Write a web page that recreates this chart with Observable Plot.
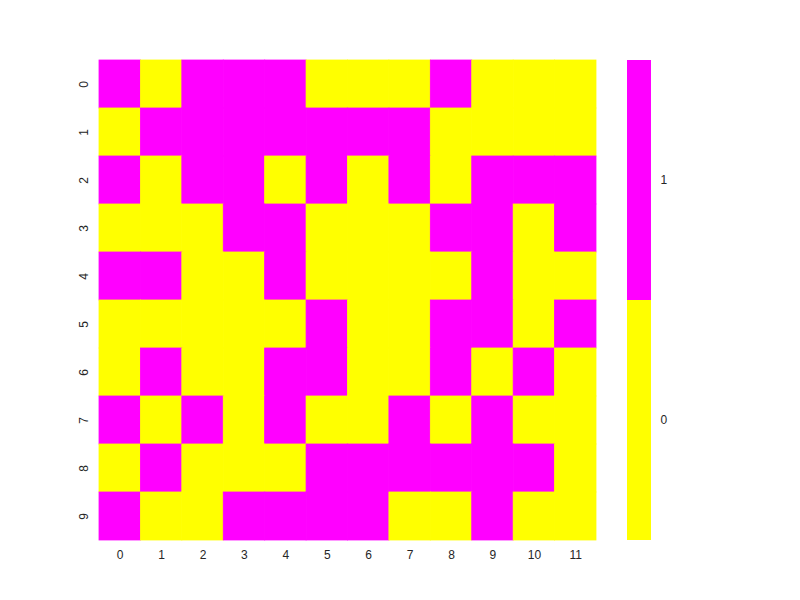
<!DOCTYPE html>
<html>
<head>
<meta charset="utf-8">
<script src="https://cdn.jsdelivr.net/npm/d3@7"></script>
<script src="https://cdn.jsdelivr.net/npm/@observablehq/plot@0.6"></script>
<style>
  body { margin: 0; background: #fff; }
  #wrap { position: relative; width: 800px; height: 600px; }
  #wrap > svg, #wrap > div { position: absolute; }
  svg text { font-family: "Liberation Sans", Arial, sans-serif; }
</style>
</head>
<body>
<div id="wrap"></div>
<script>
const rowLabels = ["0","1","2","3","4","5","6","7","8","9"];
const colLabels = ["0","1","2","3","4","5","6","7","8","9","10","11"];
const row0 = [1,0,1,1,1,0,0,0,1,0,0,0];
const row1 = [0,1,1,1,1,1,1,1,0,0,0,0];
const row2 = [1,0,1,1,0,1,0,1,0,1,1,1];
const row3 = [0,0,0,1,1,0,0,0,1,1,0,1];
const row4 = [1,1,0,0,1,0,0,0,0,1,0,0];
const row5 = [0,0,0,0,0,1,0,0,1,1,0,1];
const row6 = [0,1,0,0,1,1,0,0,1,0,1,0];
const row7 = [1,0,1,0,1,0,0,1,0,1,0,0];
const row8 = [0,1,0,0,0,1,1,1,1,1,1,0];
const row9 = [1,0,0,1,1,1,1,0,0,1,0,0];
const rows = [row0,row1,row2,row3,row4,row5,row6,row7,row8,row9];
const levels = ["0","1"];
const palette = ["#ffff00", "#ff00ff"];

const cells = [];
rows.forEach((r, i) => r.forEach((v, j) => cells.push({row: rowLabels[i], col: colLabels[j], v: String(v)})));

const colorScale = {type: "ordinal", domain: levels, range: palette};

const main = Plot.plot({
  width: 800, height: 600,
  marginLeft: 99, marginRight: 204, marginTop: 60, marginBottom: 60,
  x: {type: "band", domain: colLabels, padding: 0, round: false, label: null},
  y: {type: "band", domain: rowLabels, padding: 0, round: false, label: null},
  color: colorScale,
  style: {fontSize: "12px", fontFamily: "Liberation Sans, Arial, sans-serif", color: "#262626"},
  marks: [
    Plot.cell(cells, {x: "col", y: "row", fill: "v", stroke: "v", strokeWidth: 0.8, inset: 0}),
    Plot.axisX({tickSize: 0, tickPadding: 10, label: null, fontSize: 12}),
    Plot.axisY({tickSize: 0, tickPadding: 12, tickRotate: -90, label: null, fontSize: 12})
  ]
});
main.style.left = "0px"; main.style.top = "0px";
document.getElementById("wrap").appendChild(main);

const bar = Plot.plot({
  width: 60, height: 480,
  marginLeft: 0, marginRight: 36, marginTop: 0, marginBottom: 0,
  x: {axis: null},
  y: {type: "band", domain: ["1","0"], padding: 0, round: false, label: null},
  color: colorScale,
  style: {fontSize: "12px", fontFamily: "Liberation Sans, Arial, sans-serif", color: "#262626"},
  marks: [
    Plot.cell(levels, {y: d => d, fill: d => d, inset: 0}),
    Plot.axisY({anchor: "right", tickSize: 0, tickPadding: 9, label: null, fontSize: 12})
  ]
});
bar.style.left = "627px"; bar.style.top = "60px";
document.getElementById("wrap").appendChild(bar);
</script>
</body>
</html>
